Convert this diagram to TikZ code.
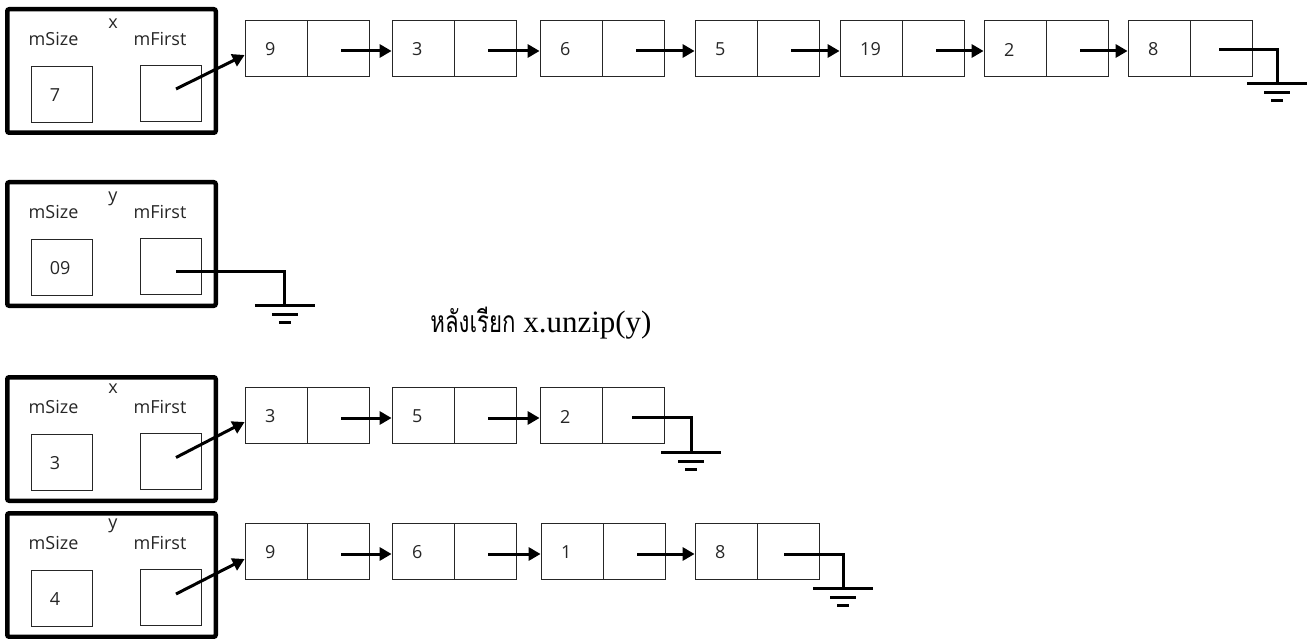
\documentclass[tikz,border=0pt]{standalone}
\usepackage{fontspec}
\setmainfont{Open Sans}
\newfontfamily\thaifont[Script=Thai,FakeStretch=0.74]{Loma}
\newfontfamily\romanfont{Liberation Serif}
\usetikzlibrary{arrows.meta,calc}

\tikzset{
  frame/.style={draw, line width=4.5pt, rounded corners=2pt, inner sep=0pt,
                minimum width=208.5pt, minimum height=123.5pt},
  slot/.style={draw=black!85, line width=0.8pt, minimum width=61pt,
               minimum height=56pt, inner sep=0pt},
  cell/.style={draw=black!85, line width=0.8pt, minimum width=62pt,
               minimum height=56pt, inner sep=0pt},
  lbl/.style={font=\fontsize{18}{20}\selectfont, text=black!85, inner sep=0pt},
  val/.style={lbl, anchor=west},
  ptr/.style={line width=3pt, -{Triangle[length=12pt,width=13pt]}},
  wire/.style={line width=3pt},
  earth/.pic={
    \draw[wire] (-30,0) -- (30,0);
    \draw[wire] (-13,9) -- (13,9);
    \draw[wire] (-6,17) -- (6,17);
  }
}

% one list element: name, left edge, centre line, stored value
\newcommand\listelem[4]{%
  \node[cell] (#1v) at ({#2+31},#3) {};
  \node[cell] (#1p) at ({#2+93},#3) {};
  \node[val] (#1t) at ({#2+20},{#3+1.5}) {#4};
}

% a list object: name, top edge of frame, label, size value, label offset
\newcommand\listobj[5]{%
  \node[frame] (#1) at (111.5,{#2+64}) {};
  \node[lbl] (#1name) at (113,{#2+#5}) {#3};
  \node[lbl] (#1ls) at (53.5,{#2+31.5}) {mSize};
  \node[lbl] (#1lf) at (160,{#2+31.5}) {mFirst};
  \node[slot] (#1size) at (61.5,{#2+87}) {};
  \node[slot] (#1first) at (171,{#2+86}) {};
  \node[val] (#1sv) at ([xshift=19pt,yshift=-1pt]#1size.west) {#4};
}

\begin{document}
\begin{tikzpicture}[x=1pt,y=-1pt]
\useasboundingbox (0,0) rectangle (1314,639);

% ---------- before the call ----------
\listobj{xa}{7}{x}{7}{17}
\listelem{a1}{245}{48}{9}
\listelem{a2}{392}{48}{3}
\listelem{a3}{540}{48}{6}
\listelem{a4}{695}{48}{5}
\listelem{a5}{840}{48}{19}
\listelem{a6}{984}{48}{2}
\listelem{a7}{1128}{48}{8}

\draw[ptr] ([xshift=5pt,yshift=4pt]xafirst.center) -- ([yshift=-7pt]a1v.west);
\foreach \i/\j in {1/2,2/3,3/4,4/5,5/6,6/7}
  \draw[ptr] ([xshift=3pt,yshift=-3pt]a\i p.center) -- ([yshift=-3pt]a\j v.west);
\coordinate (ag) at ([xshift=25pt,yshift=-36pt]a7p.east);
\draw[wire] ([xshift=-2pt,yshift=-2pt]a7p.center) -| (ag);
\pic at (ag) {earth};

\listobj{ya}{180}{y}{09}{19}
\coordinate (yg) at ([xshift=83pt,yshift=-39pt]yafirst.east);
\draw[wire] ([xshift=5pt,yshift=-5pt]yafirst.center) -| (yg);
\pic at (yg) {earth};

% ---------- heading ----------
\node[inner sep=0pt, anchor=base] (title) at (541,332)
  {{\thaifont\fontsize{30}{34}\selectfont หลังเรียก}{\romanfont\fontsize{31}{34}\selectfont{} x.unzip(y)}};

% ---------- after the call ----------
\listobj{xb}{375}{x}{3}{14}
\listelem{b1}{245}{415}{3}
\listelem{b2}{392}{415}{5}
\listelem{b3}{540}{415}{2}
\draw[ptr] ([xshift=5pt,yshift=3.5pt]xbfirst.center) -- ([yshift=-7pt]b1v.west);
\foreach \i/\j in {1/2,2/3}
  \draw[ptr] ([xshift=3pt,yshift=-3pt]b\i p.center) -- ([yshift=-3pt]b\j v.west);
\coordinate (bg) at ([xshift=27pt,yshift=-37pt]b3p.east);
\draw[wire] ([xshift=-1pt,yshift=-2pt]b3p.center) -| (bg);
\pic at (bg) {earth};

\listobj{yb}{511}{y}{4}{14.5}
\listelem{c1}{245}{551}{9}
\listelem{c2}{392}{551}{6}
\listelem{c3}{541}{551}{1}
\listelem{c4}{695}{551}{8}
\draw[ptr] ([xshift=5pt,yshift=3pt]ybfirst.center) -- ([yshift=-8pt]c1v.west);
\foreach \i/\j in {1/2,2/3,3/4}
  \draw[ptr] ([xshift=3pt,yshift=-3pt]c\i p.center) -- ([yshift=-3pt]c\j v.west);
\coordinate (cg) at ([xshift=24pt,yshift=-37pt]c4p.east);
\draw[wire] ([xshift=-4pt,yshift=-3pt]c4p.center) -| (cg);
\pic at (cg) {earth};
\end{tikzpicture}
\end{document}
